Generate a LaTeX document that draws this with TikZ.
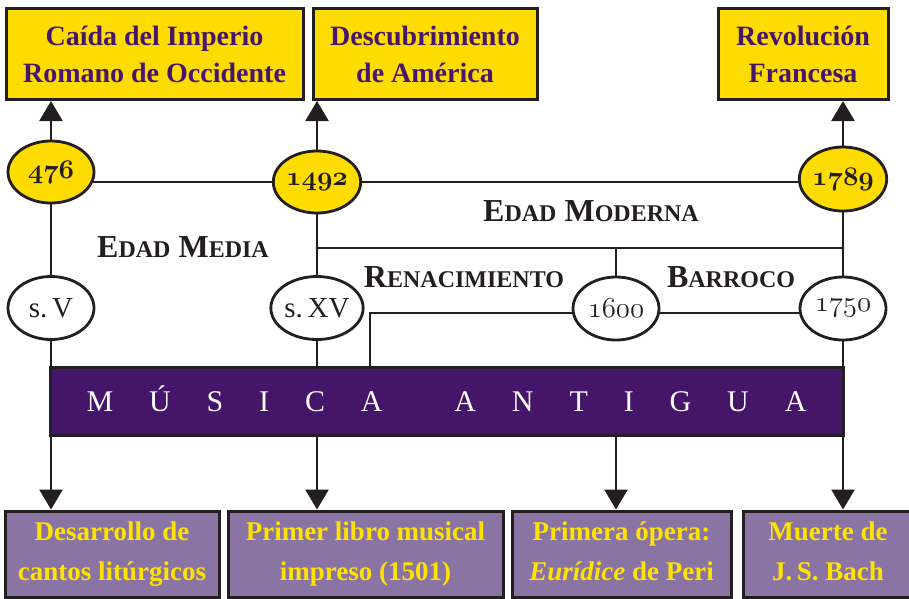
\documentclass[tikz,border=0pt]{standalone}
\usepackage{graphicx}
\usepackage{fontspec}
\setmainfont{Liberation Serif}
\usetikzlibrary{shapes.geometric,arrows.meta,backgrounds}
\definecolor{ink}{HTML}{231F20}
\definecolor{yel}{HTML}{FFDC00}
\definecolor{ptxt}{HTML}{46166B}
\definecolor{lav}{HTML}{8A74A4}
\definecolor{ytxt}{HTML}{FFE300}
\definecolor{bandc}{HTML}{45156A}
\newcommand\fakesc[2]{#1{\fontsize{24}{24}\selectfont #2}}
\newcommand\osn[1]{\scalebox{1.16}{\fontsize{24.88}{25}\usefont{OML}{cmm}{m}{it}#1}}
\newcommand\osb[1]{\scalebox{1.08}{\fontsize{24.88}{25}\usefont{OML}{cmm}{b}{it}#1}}
\tikzset{
  conn/.style={draw=ink, line width=2.6pt},
  arr/.style={conn, -{Triangle[width=23pt,length=20pt]}},
  topbox/.style={rectangle, draw=ink, line width=3pt, fill=yel, text=ptxt,
    font=\fontsize{28}{37}\selectfont\bfseries, align=center, inner sep=0pt,
    minimum height=91pt},
  botbox/.style={rectangle, draw=ink, line width=3pt, fill=lav, text=ytxt,
    font=\fontsize{27}{40}\selectfont\bfseries, align=center, inner sep=0pt,
    minimum height=86pt},
  bigyear/.style={ellipse, draw=ink, line width=2.8pt, fill=yel, text=ink,
    minimum width=86pt, minimum height=62pt, inner sep=0pt},
  smallyear/.style={ellipse, draw=ink, line width=2.8pt, fill=white, text=ink,
    minimum width=86pt, minimum height=63pt, inner sep=0pt,
    font=\fontsize{29}{29}\selectfont},
  period/.style={text=ink, inner sep=0pt, font=\fontsize{32}{32}\selectfont\bfseries},
  bandbox/.style={rectangle, draw=ink, line width=3pt, fill=bandc, text=white,
    minimum width=793pt, minimum height=68pt, inner sep=0pt,
    text height=20pt, text depth=0pt, font=\fontsize{30}{30}\selectfont}
}
\begin{document}
\begin{tikzpicture}[x=1pt,y=-1pt]
\useasboundingbox (0,0) rectangle (909,598);

% top boxes
\node[topbox, minimum width=297pt] (tb1) at (154.5,54) {Caída del Imperio\\Romano de Occidente};
\node[topbox, minimum width=224pt] (tb2) at (425,54) {Descubrimiento\\de América};
\node[topbox, minimum width=170pt] (tb3) at (803,54) {Revolución\\Francesa};

% year ellipses
\node[bigyear] (e476) at (51,172) {\osb{476}};
\node[bigyear] (e1492) at (317,182) {\osb{1492}};
\node[bigyear, minimum height=64pt] (e1789) at (843,179) {\osb{1789}};

\node[smallyear] (esV) at (51,308) {s.\,V};
\node[smallyear] (esXV) at (317,308) {s.\,XV};
\node[smallyear] (e1600) at (616,308.5) {\osn{1600}};
\node[smallyear] (e1750) at (843,308.5) {\osn{1750}};

% period labels
\node[period, anchor=base] (edm) at (183,257) {\fakesc{E}{DAD} \fakesc{M}{EDIA}};
\node[period, anchor=base] (edmod) at (591,221) {\fakesc{E}{DAD} \fakesc{M}{ODERNA}};
\node[period, anchor=base] (ren) at (464,287) {\fakesc{R}{ENACIMIENTO}};
\node[period, anchor=base] (bar) at (731,287) {\fakesc{B}{ARROCO}};

% band
\node[bandbox] (band) at (446.5,401) {\makebox[720pt][s]{M\hfill Ú\hfill S\hfill I\hfill C\hfill A\hfill\hfill A\hfill N\hfill T\hfill I\hfill G\hfill U\hfill A}};

% bottom boxes
\node[botbox, minimum width=214pt] (bb1) at (112,554) {Desarrollo de\\cantos litúrgicos\vphantom{(g}};
\node[botbox, minimum width=275pt] (bb2) at (365.5,554) {Primer libro musical\\impreso (1501)\vphantom{(g}};
\node[botbox, minimum width=219pt] (bb3) at (621.5,554) {Primera ópera:\\\textit{Eurídice} de Peri\vphantom{(g}};
\node[botbox, minimum width=170pt] (bb4) at (828,554) {Muerte de\\J.\,S. Bach\vphantom{(g}};

\coordinate (m1) at (317,248);
\coordinate (m2) at (843,248);
\coordinate (r1) at (370,313);

\begin{scope}[on background layer]
  % main timeline
  \draw[conn] (e476 |- e1492) -- (e1789 |- e1492);
  % verticals
  \draw[conn] (e476) -- (esV);
  \draw[conn] (e1492) -- (esXV);
  \draw[conn] (e1789) -- (e1750);
  % edad moderna bracket
  \draw[conn] (m1) -- (m2);
  \draw[conn] (e1600 |- m1) -- (e1600);
  % renacimiento / barroco line
  \draw[conn] (band.north -| r1) -- (r1) -- (e1750 |- r1);
  % to band
  \draw[conn] (esV) -- (esV |- band.north);
  \draw[conn] (esXV) -- (esXV |- band.north);
  \draw[conn] (e1750) -- (e1750 |- band.north);
\end{scope}

% arrows up
\draw[arr] (e476) -- (e476 |- tb1.south);
\draw[arr] (e1492) -- (e1492 |- tb2.south);
\draw[arr] (e1789) -- (e1789 |- tb3.south);

% arrows down
\draw[arr] (esV |- band.south) -- (esV |- bb1.north);
\draw[arr] (esXV |- band.south) -- (esXV |- bb2.north);
\draw[arr] (e1600 |- band.south) -- (e1600 |- bb3.north);
\draw[arr] (e1750 |- band.south) -- (e1750 |- bb4.north);
\end{tikzpicture}
\end{document}
